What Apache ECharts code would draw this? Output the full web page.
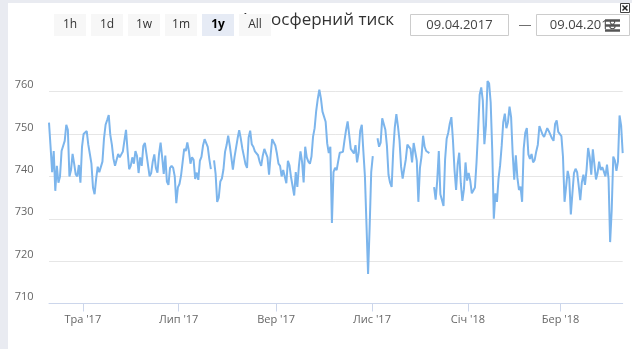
<!DOCTYPE html>
<html><head><meta charset="utf-8">
<script src="https://cdn.jsdelivr.net/npm/echarts@6/dist/echarts.min.js"></script>
<style>html,body{margin:0;padding:0;background:#fff}#c{width:632px;height:349px}</style>
</head><body><div id="c"></div>
<script>
const chartTitle = 'Атмосферний тиск';
const rangeButtons = ['1h', '1d', '1w', '1m', '1y', 'All'];
const selectedButton = '1y';
const dateFrom = '09.04.2017';
const dateTo = '09.04.2018';
const monthNames = ['Січ', 'Лют', 'Бер', 'Кві', 'Тра', 'Чер', 'Лип', 'Сер', 'Вер', 'Жов', 'Лис', 'Гру'];
const yMin = 710, yMax = 760, yStep = 10;

// daily pressure readings, mm Hg (null = no data)
const apr2017 = [752.7, 747, 741, 746, 736.6, 742.5, 738.5, 740, 746, 745.6, 748.4, 752.2, 751, 740, 741.5, 745.3, 743, 740.5, 740, 742.7, 738.5, 747];
const may2017 = [750, 750.2, 750.7, 747.5, 745.3, 743, 737.3, 735.8, 739.5, 742.3, 741, 740.7, 743.5, 749, 752.2, 753.3, 754.5, 749.8, 747.5, 744.2, 742.5, 742.1, 745.3, 744.5, 745.2, 745.9, 748.5, 751, 746, 741.7, 742.5];
const jun2017 = [744.5, 743, 746, 744.8, 740.8, 744.5, 742.5, 747.2, 747.9, 745.3, 745.3, 740, 740.8, 743.5, 745.2, 742, 740.9, 745.3, 748, 744.5, 740.6, 744.9, 738.8, 738, 742, 742.5, 742, 740, 733.7, 737.4];
const jul2017 = [738.2, 740.2, 743.3, 746.5, 746, 748, 746, 743, 744.5, 743.9, 739.4, 740.9, 739.2, 743.7, 744.6, 747.3, 748.8, 748.6, 747, 744.1, 741.7, null, 743.8, 740.6, 734, 735, 738.8, 739.5, 741.7, 745.8, 747.4];
const aug2017 = [749.6, 747.3, 744.5, 741.6, 744.5, 744.7, 749, 750.9, 749, 746.6, 744.8, 742.9, 742, 749.2, 750.8, 747.6, 747, 745.9, 745.8, 745, 743.5, 742.5, 744.9, 746.5, 746.5, 744.5, 740.4, 745, 748.8, 749.2, 747.3];
const sep2017 = [745.4, 743, 742.5, 740, 741.5, 741.1, 738.4, 743.7, 742.6, 739.8, 740, 735.5, 741, 737.5, 742.5, 745.9, 743.5, 738.6, 747, 744.5, 743.5, 743, 744.7, 749.4, 751.4, 755.5, 758.3, 760.5, 758.4, 755.3];
const oct2017 = [755, 752.9, 747.8, 745.5, 747, 729, 741, 742, 741.5, 743.6, 745.6, 745.3, 745.8, 748.5, 751, 753, 749.8, 746.5, 746.2, 745.4, 747.4, 743.3, 745.6, 750.8, 752.2, 746, 740, 740.4, 717, 728, 741];
const nov2017 = [744.8, null, null, 749, 747, 748, 753.7, 754, 751, 747.2, 740.4, 738.5, 737.5, 746, 751.6, 754.7, 751.9, 748.5, 742.3, 739.5, 741.8, 744, 747.5, 747.2, 746.5, 743.3, 747.9, 748, 743.7, 734];
const dec2017 = [742, 744.7, 749.6, 747, 746, 745.7, 745.5, null, null, 737.5, 734.5, 739, 746, 735.8, 736, 733, 744, 748.9, 750.3, 752.5, 754, 748.6, 741.5, 736.8, 742.9, 745.6, 738.4, 734.2, 737, 743.3, 739];
const jan2018 = [740.8, 739, 736, 735.9, 737.4, 743.3, 750.8, 759.3, 761, 757.9, 747.6, 752, 762.5, 762, 757.5, 746.2, 730, 736, 734, 739.5, 742.6, 747.2, 752.8, 754.8, 751.4, 752.8, 756.5, 754, 745.4, 739.2, 745];
const feb2018 = [739.7, 736.8, 737.6, 734, 746.5, 750.3, 751.4, 745.2, 744.1, 745.3, 743.3, 743.9, 745.9, 747.5, 751.9, 751.6, 749.9, 749.3, 748.9, 751.4, 750.7, 750.4, 749, 748.4, 752.4, 753.2, 750.5, 750.4];
const mar2018 = [749.5, 744.7, 734, 737.6, 741.3, 739.5, 731, 736, 740.8, 741.8, 741, 737.8, 734.4, 738.6, 740.4, 738, 741.5, 746.7, 744.6, 740.4, 746.4, 746.2, 739.3, 740.8, 743.5, 741.5, 742.2, 741.2, 740, 742.8, 739.5];
const apr2018 = [724.5, 732, 744.7, 743.8, 741.3, 743.5, 754.4, 752, 745.5];

// [year, month(0-based), first day, readings]
const monthBlocks = [
  [2017, 3, 9, apr2017], [2017, 4, 1, may2017], [2017, 5, 1, jun2017], [2017, 6, 1, jul2017],
  [2017, 7, 1, aug2017], [2017, 8, 1, sep2017], [2017, 9, 1, oct2017], [2017, 10, 1, nov2017],
  [2017, 11, 1, dec2017], [2018, 0, 1, jan2018], [2018, 1, 1, feb2018], [2018, 2, 1, mar2018],
  [2018, 3, 1, apr2018]
];
const seriesData = [];
monthBlocks.forEach(([y, m, d0, vals]) => {
  vals.forEach((v, i) => seriesData.push([Date.UTC(y, m, d0 + i, 12), v]));
});
const DAY = 86400000;

const FONT = '"Open Sans", sans-serif';
const graphics = [
  { type: 'rect', z: 0, shape: { x: 0, y: 0, width: 632, height: 3 }, style: { fill: '#e9ebf1' } },
  { type: 'rect', z: 0, shape: { x: 0, y: 0, width: 8, height: 349 }, style: { fill: '#e9ebf1' } },
  { type: 'text', z: 1, x: 317, y: 20, style: { text: chartTitle, fill: '#333', font: '17px ' + FONT, align: 'center', verticalAlign: 'middle' } }
];
rangeButtons.forEach((b, i) => {
  const x = 54 + i * 37;
  const sel = b === selectedButton;
  graphics.push({ type: 'rect', z: 5, shape: { x: x, y: 14, width: 32, height: 22 }, style: { fill: sel ? '#e6ebf5' : '#f7f7f7' } });
  graphics.push({ type: 'text', z: 6, x: x + 16, y: 25, style: { text: b, fill: sel ? '#000' : '#333', font: (sel ? 'bold ' : '') + '12px ' + FONT, align: 'center', verticalAlign: 'middle' } });
});
[[410.5, 98, dateFrom], [536.5, 93, dateTo]].forEach(([x, w, t]) => {
  graphics.push({ type: 'rect', z: 5, shape: { x: x, y: 14.5, width: w, height: 21 }, style: { fill: '#fff', stroke: '#cccccc', lineWidth: 1 } });
  graphics.push({ type: 'text', z: 6, x: x + w / 2, y: 25, style: { text: t, fill: '#444', font: '13px ' + FONT, align: 'center', verticalAlign: 'middle' } });
});
graphics.push({ type: 'text', z: 6, x: 525, y: 25, style: { text: '—', fill: '#666', font: '13px ' + FONT, align: 'center', verticalAlign: 'middle' } });
[20.5, 25.5, 30.5].forEach(yy => {
  graphics.push({ type: 'rect', z: 7, shape: { x: 605, y: yy - 1.25, width: 15, height: 2.5 }, style: { fill: '#555' } });
});
graphics.push({ type: 'rect', z: 7, shape: { x: 620.5, y: 3.5, width: 9, height: 9 }, style: { fill: '#fff', stroke: '#444', lineWidth: 1 } });
graphics.push({ type: 'line', z: 8, shape: { x1: 622.5, y1: 5.5, x2: 627.5, y2: 10.5 }, style: { stroke: '#222', lineWidth: 1.5 } });
graphics.push({ type: 'line', z: 8, shape: { x1: 627.5, y1: 5.5, x2: 622.5, y2: 10.5 }, style: { stroke: '#222', lineWidth: 1.5 } });

const chart = echarts.init(document.getElementById('c'), null, { renderer: 'canvas' });
chart.setOption({
  animation: false,
  useUTC: true,
  backgroundColor: '#fff',
  grid: { left: 49, right: 9.3, top: 91.7, bottom: 45.5 },
  xAxis: {
    type: 'time',
    min: Date.UTC(2017, 3, 9, 12),
    max: Date.UTC(2018, 3, 9, 12),
    minInterval: 61 * DAY,
    maxInterval: 61 * DAY,
    splitLine: { show: false },
    axisLine: { lineStyle: { color: '#ccd6eb', width: 1 } },
    axisTick: { show: true, length: 8, lineStyle: { color: '#ccd6eb' } },
    axisLabel: {
      color: '#666', fontSize: 11, fontFamily: FONT, margin: 11,
      formatter: v => { const d = new Date(v); return monthNames[d.getUTCMonth()] + " '" + String(d.getUTCFullYear()).slice(2); }
    }
  },
  yAxis: {
    type: 'value', min: yMin, max: yMax, interval: yStep,
    axisLine: { show: false }, axisTick: { show: false },
    splitLine: { lineStyle: { color: '#e6e6e6', width: 1 } },
    axisLabel: { color: '#666', fontSize: 11, fontFamily: FONT, margin: 15.5, verticalAlign: 'bottom', lineHeight: 13 }
  },
  series: [{
    type: 'line', data: seriesData, showSymbol: false, symbol: 'none', clip: false,
    connectNulls: false, sampling: null,
    lineStyle: { color: '#7cb5ec', width: 2 }
  }],
  graphic: graphics
});
</script>
</body></html>
